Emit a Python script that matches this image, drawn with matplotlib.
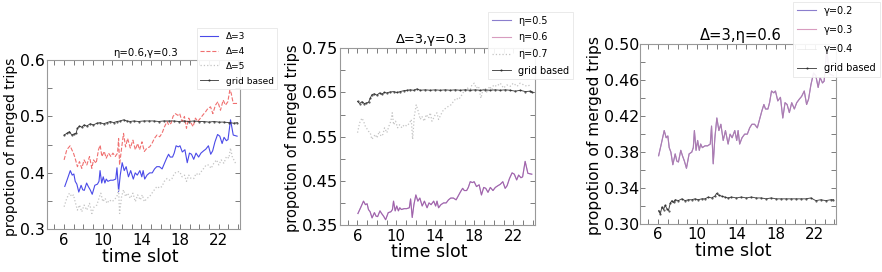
import matplotlib
matplotlib.use("Agg")
import matplotlib.pyplot as plt
from matplotlib.ticker import MultipleLocator, FixedLocator

plt.rcParams['font.family'] = ['DejaVu Sans']

# ---------------- data ----------------
# base series: Delta=3, eta=0.6, gamma=0.3 (same curve in all three panels)
base_t = [6.07, 6.34, 6.64, 6.84, 7.01, 7.15, 7.32, 7.52, 7.76, 7.93,
          8.09, 8.33, 8.50, 8.70, 8.91, 9.18, 9.45, 9.61, 9.72, 9.89,
          10.05, 10.22, 10.36, 10.53, 10.80, 11.07, 11.34, 11.47, 11.64, 11.81,
          12.01, 12.22, 12.42, 12.66, 12.89, 13.16, 13.36, 13.57, 13.84, 14.04,
          14.18, 14.34, 14.58, 14.85, 15.12, 15.36, 15.59, 15.86, 16.14, 16.41,
          16.61, 16.81, 16.98, 17.22, 17.39, 17.59, 17.82, 17.99, 18.23, 18.50,
          18.74, 18.97, 19.18, 19.41, 19.65, 19.92, 20.16, 20.43, 20.66, 20.93,
          21.17, 21.37, 21.61, 21.88, 22.11, 22.35, 22.55, 22.79, 22.96, 23.22,
          23.50, 23.90]
base_v = [0.376, 0.389, 0.404, 0.396, 0.398, 0.385, 0.380, 0.366, 0.378, 0.370,
          0.369, 0.382, 0.376, 0.370, 0.362, 0.378, 0.380, 0.385, 0.404, 0.382,
          0.393, 0.382, 0.389, 0.385, 0.387, 0.387, 0.389, 0.409, 0.367, 0.396,
          0.418, 0.404, 0.411, 0.393, 0.404, 0.389, 0.400, 0.396, 0.404, 0.393,
          0.404, 0.389, 0.396, 0.400, 0.400, 0.407, 0.411, 0.411, 0.407, 0.418,
          0.426, 0.433, 0.428, 0.428, 0.435, 0.448, 0.446, 0.448, 0.437, 0.441,
          0.418, 0.435, 0.433, 0.424, 0.435, 0.428, 0.435, 0.439, 0.442, 0.448,
          0.433, 0.439, 0.455, 0.468, 0.465, 0.452, 0.463, 0.457, 0.459, 0.494,
          0.467, 0.465]

# panel 1: Delta = 4
d4_t = [6.00, 6.28, 6.62, 6.80, 6.97, 7.14, 7.38, 7.59, 7.83, 8.07,
        8.35, 8.63, 8.87, 9.04, 9.32, 9.56, 9.73, 9.91, 10.15, 10.36,
        10.60, 10.84, 11.05, 11.29, 11.53, 11.64, 11.74, 11.95, 12.15, 12.36,
        12.57, 12.85, 13.12, 13.37, 13.61, 13.81, 14.06, 14.30, 14.58, 14.85,
        15.09, 15.34, 15.61, 15.89, 16.13, 16.37, 16.65, 16.82, 17.07, 17.27,
        17.51, 17.76, 17.96, 18.21, 18.45, 18.66, 18.90, 19.14, 19.35, 19.59,
        19.83, 20.11, 20.38, 20.63, 20.87, 21.15, 21.39, 21.66, 21.91, 22.18,
        22.46, 22.70, 22.94, 23.15, 23.29, 23.50, 23.91]
d4_v = [0.423, 0.441, 0.448, 0.441, 0.435, 0.426, 0.411, 0.420, 0.408, 0.423,
        0.414, 0.429, 0.408, 0.423, 0.417, 0.441, 0.449, 0.429, 0.438, 0.426,
        0.435, 0.429, 0.435, 0.429, 0.435, 0.461, 0.414, 0.444, 0.470, 0.446,
        0.461, 0.444, 0.458, 0.441, 0.452, 0.441, 0.455, 0.438, 0.444, 0.446,
        0.452, 0.461, 0.467, 0.464, 0.470, 0.481, 0.491, 0.485, 0.488, 0.500,
        0.505, 0.502, 0.505, 0.491, 0.500, 0.479, 0.497, 0.488, 0.482, 0.497,
        0.491, 0.497, 0.503, 0.508, 0.514, 0.517, 0.505, 0.520, 0.526, 0.511,
        0.529, 0.520, 0.526, 0.547, 0.541, 0.523, 0.523]

# panel 1: Delta = 5
d5_t = [6.00, 6.28, 6.55, 6.80, 6.97, 7.14, 7.38, 7.59, 7.83, 8.07,
        8.35, 8.63, 8.87, 9.11, 9.39, 9.66, 9.80, 10.01, 10.25, 10.43,
        10.70, 10.94, 11.19, 11.46, 11.64, 11.74, 11.95, 12.15, 12.36, 12.57,
        12.85, 13.12, 13.37, 13.61, 13.88, 14.09, 14.30, 14.58, 14.85, 15.09,
        15.34, 15.61, 15.89, 16.13, 16.37, 16.65, 16.93, 17.17, 17.41, 17.69,
        17.96, 18.21, 18.45, 18.66, 18.90, 19.14, 19.42, 19.66, 19.94, 20.18,
        20.45, 20.70, 20.97, 21.21, 21.49, 21.77, 22.01, 22.25, 22.53, 22.80,
        23.05, 23.22, 23.39, 23.74, 23.91]
d5_v = [0.340, 0.355, 0.364, 0.358, 0.361, 0.349, 0.334, 0.343, 0.331, 0.343,
        0.334, 0.346, 0.328, 0.340, 0.343, 0.358, 0.364, 0.349, 0.355, 0.346,
        0.352, 0.349, 0.352, 0.358, 0.370, 0.328, 0.358, 0.370, 0.358, 0.364,
        0.355, 0.364, 0.349, 0.361, 0.352, 0.361, 0.349, 0.355, 0.358, 0.364,
        0.370, 0.376, 0.373, 0.376, 0.385, 0.390, 0.387, 0.390, 0.399, 0.402,
        0.402, 0.393, 0.396, 0.385, 0.396, 0.390, 0.390, 0.399, 0.396, 0.402,
        0.408, 0.414, 0.414, 0.408, 0.417, 0.423, 0.414, 0.423, 0.417, 0.429,
        0.426, 0.444, 0.429, 0.417, 0.417]

# panel 1: grid based
g1_t = [6.00, 6.28, 6.55, 6.80, 7.04, 7.24, 7.38, 7.59, 7.83, 8.07,
        8.35, 8.70, 9.04, 9.39, 9.73, 10.08, 10.43, 10.77, 11.12, 11.46,
        11.81, 12.15, 12.50, 12.85, 13.19, 13.71, 14.23, 14.75, 15.27, 15.79,
        16.30, 16.82, 17.34, 17.86, 18.38, 18.90, 19.42, 19.94, 20.45, 20.97,
        21.49, 22.01, 22.53, 23.05, 23.57, 23.91]
g1_v = [0.467, 0.470, 0.473, 0.467, 0.469, 0.470, 0.479, 0.483, 0.481, 0.485,
        0.483, 0.487, 0.485, 0.488, 0.489, 0.487, 0.489, 0.491, 0.489, 0.491,
        0.492, 0.494, 0.492, 0.491, 0.492, 0.491, 0.492, 0.492, 0.492, 0.491,
        0.492, 0.492, 0.492, 0.491, 0.492, 0.491, 0.492, 0.491, 0.491, 0.490,
        0.491, 0.490, 0.490, 0.489, 0.488, 0.489]

# panel 2: eta = 0.7
e7_t = [6.03, 6.24, 6.48, 6.65, 6.82, 7.16, 7.33, 7.50, 7.85, 8.02,
        8.26, 8.43, 8.63, 8.80, 9.04, 9.25, 9.45, 9.59, 9.73, 9.93,
        10.14, 10.34, 10.58, 10.82, 11.09, 11.37, 11.54, 11.68, 11.85, 12.05,
        12.26, 12.46, 12.63, 12.87, 13.08, 13.32, 13.49, 13.66, 13.83, 14.00,
        14.17, 14.34, 14.58, 14.85, 15.13, 15.37, 15.61, 15.88, 16.15, 16.39,
        16.63, 16.84, 17.08, 17.32, 17.52, 17.76, 18.00, 18.20, 18.44, 18.68,
        18.89, 19.13, 19.30, 19.57, 19.81, 19.98, 20.30, 20.67, 21.00, 21.35,
        21.70, 22.00, 22.40, 22.70, 23.10, 23.40, 23.75]
e7_v = [0.559, 0.581, 0.592, 0.585, 0.574, 0.562, 0.559, 0.544, 0.555, 0.547,
        0.562, 0.551, 0.555, 0.570, 0.559, 0.574, 0.585, 0.604, 0.577, 0.585,
        0.570, 0.577, 0.570, 0.577, 0.574, 0.581, 0.589, 0.544, 0.596, 0.622,
        0.607, 0.589, 0.596, 0.585, 0.600, 0.592, 0.604, 0.585, 0.592, 0.600,
        0.604, 0.589, 0.600, 0.611, 0.615, 0.619, 0.622, 0.630, 0.637, 0.634,
        0.641, 0.649, 0.656, 0.660, 0.652, 0.667, 0.671, 0.660, 0.664, 0.637,
        0.656, 0.660, 0.649, 0.664, 0.656, 0.667, 0.664, 0.671, 0.660, 0.667,
        0.664, 0.671, 0.664, 0.671, 0.667, 0.664, 0.667]

# panel 2: grid based
g2_t = [6.03, 6.24, 6.48, 6.72, 6.92, 7.16, 7.33, 7.50, 7.74, 8.02,
        8.29, 8.53, 8.77, 9.04, 9.32, 9.73, 10.07, 10.41, 10.75, 11.09,
        11.44, 11.78, 12.12, 12.46, 12.97, 13.49, 14.00, 14.51, 15.03, 15.54,
        16.05, 16.56, 17.08, 17.59, 18.10, 18.62, 19.13, 19.64, 20.15, 20.67,
        21.18, 21.69, 22.21, 22.72, 23.23, 23.74, 23.91]
g2_v = [0.630, 0.625, 0.629, 0.625, 0.626, 0.628, 0.637, 0.645, 0.647, 0.644,
        0.649, 0.646, 0.650, 0.649, 0.651, 0.652, 0.650, 0.652, 0.654, 0.655,
        0.656, 0.655, 0.658, 0.655, 0.656, 0.655, 0.656, 0.655, 0.656, 0.655,
        0.656, 0.655, 0.656, 0.655, 0.656, 0.655, 0.656, 0.655, 0.656, 0.655,
        0.656, 0.655, 0.653, 0.655, 0.652, 0.653, 0.652]

# panel 3: grid based
g3_t = [6.07, 6.24, 6.41, 6.57, 6.74, 6.91, 7.08, 7.25, 7.42, 7.59,
        7.76, 8.09, 8.43, 8.77, 9.11, 9.45, 9.78, 10.12, 10.46, 10.80,
        11.14, 11.47, 11.81, 11.98, 12.22, 12.49, 12.82, 13.16, 13.50, 14.01,
        14.51, 15.02, 15.53, 16.03, 16.54, 17.05, 17.55, 18.06, 18.57, 19.07,
        19.58, 20.09, 20.59, 21.10, 21.61, 22.11, 22.62, 23.13, 23.64, 23.91]
g3_v = [0.315, 0.311, 0.319, 0.316, 0.321, 0.317, 0.315, 0.323, 0.326, 0.324,
        0.327, 0.326, 0.328, 0.326, 0.327, 0.327, 0.328, 0.327, 0.328, 0.328,
        0.330, 0.329, 0.331, 0.334, 0.332, 0.331, 0.330, 0.329, 0.330, 0.329,
        0.330, 0.329, 0.330, 0.329, 0.329, 0.328, 0.329, 0.328, 0.328, 0.328,
        0.328, 0.328, 0.328, 0.328, 0.329, 0.326, 0.327, 0.326, 0.327, 0.327]

titles = ["\u03b7=0.6,\u03b3=0.3", "\u0394=3,\u03b3=0.3", "\u0394=3,\u03b7=0.6"]
labels1 = ["\u0394=3", "\u0394=4", "\u0394=5", "grid based"]
labels2 = ["\u03b7=0.5", "\u03b7=0.6", "\u03b7=0.7", "grid based"]
labels3 = ["\u03b3=0.2", "\u03b3=0.3", "\u03b3=0.4", "grid based"]
xticks = [6, 10, 14, 18, 22]
yticks1 = [0.3, 0.4, 0.5, 0.6]
yticks2 = [0.35, 0.45, 0.55, 0.65, 0.75]
yticks3 = [0.30, 0.34, 0.38, 0.42, 0.46, 0.50]

# ---------------- figure ----------------
W, H = 882, 272
fig = plt.figure(figsize=(W / 100, H / 100), dpi=100)


def px_axes(l, r, t, b):
    return fig.add_axes([l / W, 1 - b / H, (r - l) / W, (b - t) / H])


ax1 = px_axes(46.7, 240.0, 60.0, 229.3)
ax2 = px_axes(339.7, 534.7, 48.3, 225.0)
ax3 = px_axes(640.3, 836.3, 44.3, 224.0)

BLUE = '#4a4ae8'
RED = '#f07070'
GREY = '#c4c4c4'
LAV = '#5a48b8'
PINK = '#b84c8c'
GRID_KW = dict(color='#222222', marker='.', markersize=1.0, linewidth=0.65, alpha=0.85)

# panel 1
ax1.plot(base_t, base_v, color=BLUE, lw=0.8, label=labels1[0])
ax1.plot(d4_t, d4_v, color=RED, lw=0.8, ls='--', label=labels1[1])
ax1.plot(d5_t, d5_v, color=GREY, lw=0.9, ls=':', label=labels1[2])
ax1.plot(g1_t, g1_v, label=labels1[3], **GRID_KW)

# panel 2
ax2.plot(base_t, base_v, color=LAV, lw=0.8, alpha=0.7, label=labels2[0])
ax2.plot(base_t, base_v, color=PINK, lw=0.8, alpha=0.55, label=labels2[1])
ax2.plot(e7_t, e7_v, color=GREY, lw=0.9, ls=':', label=labels2[2])
ax2.plot(g2_t, g2_v, label=labels2[3], **GRID_KW)

# panel 3
ax3.plot(base_t, base_v, color=LAV, lw=0.8, alpha=0.7, label=labels3[0])
ax3.plot(base_t, base_v, color=PINK, lw=0.8, alpha=0.55, label=labels3[1])
ax3.plot(base_t, base_v, color=GREY, lw=0.6, alpha=0.3, label=labels3[2])
ax3.plot(g3_t, g3_v, label=labels3[3], **GRID_KW)

cfg = [
    # ax, ylim, yticks, yminor, title, title_x, title_fs, title_pad, ylab_x, ylab_fs,
    # xlab_y, xlab_x, ytick_fs, legend(l, t), leg_fs, leg_spacing, yfmt, xpad
    (ax1, (0.3, 0.6), yticks1, 0.05, titles[0], 0.512, 7.3, 3.2, -0.150, 10.0,
     -0.11, 0.486, 11.3, (196.7, 28.3), 6.5, 0.65, "%.1f", 3.0),
    (ax2, (0.35, 0.75), yticks2, 0.05, titles[1], 0.472, 9.4, 4.0, -0.205, 10.5,
     -0.10, 0.458, 11.8, (487.7, 11.7), 6.9, 0.7, "%.2f", 3.0),
    (ax3, (0.30, 0.50), yticks3, 0.02, titles[2], 0.514, 10.6, 3.0, -0.196, 11.2,
     -0.098, 0.475, 11.4, (793.0, 1.7), 7.0, 0.95, "%.2f", 2.5),
]

for (ax, ylim, yt, ymin, title, tx, tfs, tpad, ylx, ylfs, xly, xlx, ytfs,
     (ll, lt), lfs, lsp, yfmt, xpad) in cfg:
    ax.set_xlim(4.2, 24.2)
    ax.set_ylim(*ylim)
    ax.xaxis.set_major_locator(FixedLocator(xticks))
    ax.xaxis.set_minor_locator(MultipleLocator(1))
    ax.yaxis.set_major_locator(FixedLocator(yt))
    ax.yaxis.set_minor_locator(MultipleLocator(ymin))
    ax.set_yticklabels([yfmt % v for v in yt])
    ax.tick_params(which='both', direction='in', top=True, right=True,
                   length=3.5, width=0.6, color='#666666')
    ax.tick_params(axis='x', which='major', labelsize=10.8, pad=xpad)
    ax.tick_params(axis='y', which='major', labelsize=ytfs, pad=1)
    for s in ax.spines.values():
        s.set_color('#999999')
        s.set_linewidth(0.8)
    ax.set_title(title, fontsize=tfs, x=tx, pad=tpad)
    ax.set_ylabel("propotion of merged trips", fontsize=ylfs)
    ax.yaxis.set_label_coords(ylx, 0.49)
    ax.set_xlabel("time slot", fontsize=12.5)
    ax.xaxis.set_label_coords(xlx, xly)
    leg = ax.legend(loc='upper left', bbox_to_anchor=(ll / W, 1 - lt / H),
                    bbox_transform=fig.transFigure, borderaxespad=0,
                    fontsize=lfs, fancybox=False, framealpha=0.9,
                    edgecolor='#e4e4e4', handlelength=2.0, labelspacing=lsp)
    leg.get_frame().set_linewidth(0.6)

fig.savefig("out.png", dpi=100)
